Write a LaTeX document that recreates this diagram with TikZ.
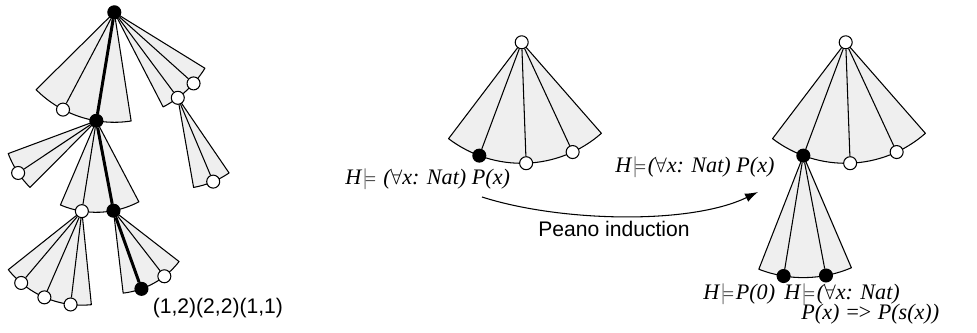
\documentclass[tikz,border=0pt]{standalone}
\usepackage{graphicx}
\usepackage{fontspec}
\setmainfont{Liberation Serif}
\setsansfont{Liberation Sans}
\usepackage{tikz}
\usetikzlibrary{arrows.meta, backgrounds}
\definecolor{cFan}{RGB}{239,239,239}
\newcommand{\modelsym}{\kern0.08em\scalebox{0.7}[1]{$\models$}\kern0.08em}
\newcommand{\drawfan}[4]{\draw[fanbox] (#1.center) -- ++(#3:#2) arc[start angle=#3, end angle=#4, radius=#2] -- cycle;}
\tikzset{
	fanbox/.style={draw=black, fill=cFan, line width=0.6pt, line join=round},
	spoke/.style={line width=0.6pt},
	wdot/.style={circle, draw=black, fill=white, line width=0.6pt, minimum size=2.6mm, inner sep=0pt},
	bdot/.style={wdot, fill=black},
	proofpath/.style={line width=1.7pt},
	formula/.style={font=\fontsize{12.6}{15}\selectfont\itshape, inner sep=0pt, anchor=base west},
	captxt/.style={font=\sffamily\fontsize{12}{14}\selectfont, inner sep=0pt},
	indarrow/.style={-{Latex[length=2.6mm, width=1.8mm]}, line width=0.6pt},
}

\begin{document}
\begin{tikzpicture}[x=0.2mm, y=0.2mm]
	\useasboundingbox (0,0) rectangle (977,-333);
	% left tree
	\node[bdot] (root) at (114.3,-12.3) {};
	\path (root.center) ++(-117.8:110) node[wdot] (a1) {};
	\path (root.center) ++(-99.4:110) node[bdot] (b1) {};
	\path (root.center) ++(-41.9:106.5) node[wdot] (c1) {};
	\path (root.center) ++(-53.4:106.5) node[wdot] (c2) {};
	\path (c2.center) ++(-67.1:91) node[wdot] (c3) {};
	\path (b1.center) ++(-146.3:94) node[wdot] (d1) {};
	\path (b1.center) ++(-99.1:91.5) node[wdot] (e1) {};
	\path (b1.center) ++(-79.2:91.5) node[bdot] (b2) {};
	\foreach \a/\n in {-130.2/f1, -113.5/f2, -96.9/f3}
		\path (e1.center) ++(\a:94) node[wdot] (\n) {};
	\path (b2.center) ++(-70.3:83) node[bdot] (b3) {};
	\path (b2.center) ++(-52.2:83) node[wdot] (g1) {};
	% middle and right trees
	\node[wdot] (m0) at (521.7,-42.3) {};
	\foreach \a/\n/\s in {-110.5/m1/bdot, -87.9/m2/wdot, -65.1/m3/wdot}
		\path (m0.center) ++(\a:121) node[\s] (\n) {};
	\node[wdot] (n0) at (845.7,-42.3) {};
	\foreach \a/\n/\s in {-110.5/n1/bdot, -87.9/n2/wdot, -65.1/n3/wdot}
		\path (n0.center) ++(\a:121) node[\s] (\n) {};
	\foreach \a/\n in {-99.3/n4, -79.3/n5}
		\path (n1.center) ++(\a:122) node[bdot] (\n) {};

	\begin{scope}[on background layer]
		\drawfan{root}{110}{-135.3}{-81.2}
		\drawfan{root}{106.5}{-62.7}{-31.7}
		\drawfan{c2}{91}{-80}{-55.7}
		\drawfan{b1}{94}{-159.6}{-134.9}
		\drawfan{b1}{91.5}{-113.1}{-62.3}
		\drawfan{e1}{94}{-141.5}{-84.2}
		\drawfan{b2}{83}{-83.3}{-37.8}
		\drawfan{m0}{121}{-127.2}{-48.8}
		\drawfan{n0}{121}{-127.2}{-48.8}
		\drawfan{n1}{122}{-111.4}{-66.8}
	\end{scope}

	\foreach \p/\c in {root/a1, root/c1, root/c2, c2/c3, b1/d1, b1/e1, e1/f1, e1/f2, e1/f3, b2/g1,
		m0/m1, m0/m2, m0/m3, n0/n1, n0/n2, n0/n3, n1/n4, n1/n5}
		\draw[spoke] (\p) -- (\c);
	\draw[proofpath] (root) -- (b1) -- (b2) -- (b3);

	\node[captxt, anchor=base west] (pathlbl) at (152.5,-313.3) {(1,2)(2,2)(1,1)};
	\node[formula] (hypA) at (345,-185) {H\modelsym\ ($\forall$x: Nat) P(x)};
	\node[formula] (hypB) at (615,-173) {H\modelsym($\forall$x: Nat) P(x)};
	\node[formula] (hypC) at (703,-300) {H\modelsym P(0)};
	\node[formula] (hypD) at (784,-300) {H\modelsym($\forall$x: Nat)};
	\node[formula] (hypE) at (801,-320) {P(x) =\kern-0.12em> P(s(x))};

	\coordinate (indS) at (482,-197);
	\coordinate (indE) at (758,-192);
	\draw[indarrow] (indS) .. controls (560,-222) and (690,-225) .. (indE);
	\node[captxt, anchor=base] (indlbl) at (614,-237) {Peano induction};
\end{tikzpicture}
\end{document}
